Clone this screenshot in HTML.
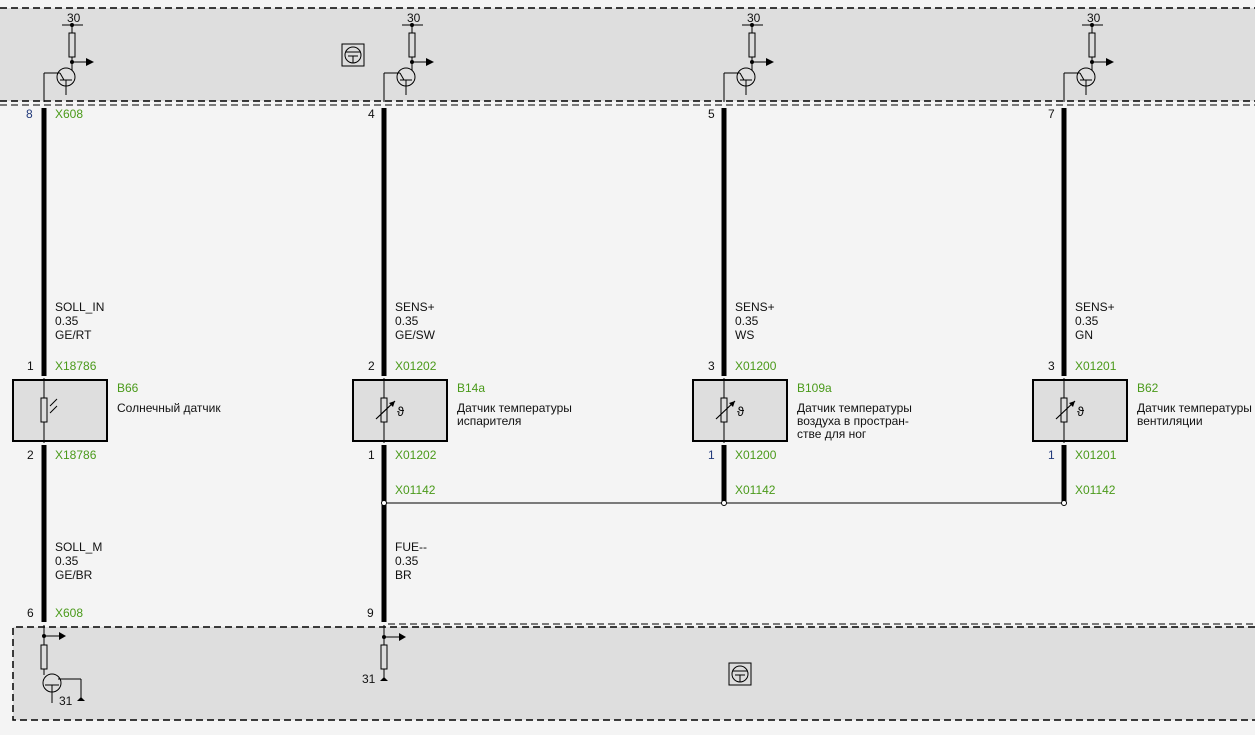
<!DOCTYPE html>
<html><head><meta charset="utf-8"><style>
html,body{margin:0;padding:0;background:#f4f4f4;}
svg{display:block;}
text{font-family:"Liberation Sans",sans-serif;font-size:12px;}
.g{fill:#4a9a1a}.k{fill:#111}.b{fill:#223a7a}
</style></head><body>
<svg width="1255" height="735" viewBox="0 0 1255 735" xmlns="http://www.w3.org/2000/svg">
<defs>
<g id="src">
 <line x1="-10" y1="25" x2="11" y2="25" stroke="#000" stroke-width="1"/>
 <circle cx="0" cy="25" r="2" fill="#000"/>
 <line x1="0" y1="25" x2="0" y2="33" stroke="#000"/>
 <rect x="-3" y="33" width="6" height="24" fill="#ddd" stroke="#000"/>
 <line x1="0" y1="57" x2="0" y2="70" stroke="#000"/>
 <circle cx="0" cy="62" r="2" fill="#000"/>
 <line x1="0" y1="62" x2="15" y2="62" stroke="#000"/>
 <polygon points="14,58 22,62 14,66" fill="#000"/>
 <circle cx="-6" cy="77" r="9" fill="none" stroke="#000"/>
 <line x1="-6" y1="80" x2="-6" y2="95" stroke="#000"/>
 <line x1="-12" y1="80" x2="0" y2="80" stroke="#000"/>
 <line x1="-12" y1="73" x2="-28" y2="73" stroke="#000"/>
 <line x1="-28" y1="73" x2="-28" y2="102" stroke="#000"/>
 <line x1="-12" y1="73" x2="-8" y2="80" stroke="#000"/>
</g>
<g id="ntc">
 <rect x="-3" y="398" width="6" height="24" fill="#ddd" stroke="#000"/>
 <line x1="-8" y1="419" x2="11" y2="401" stroke="#000" stroke-width="1.2"/>
 <polygon points="11,401 5,403 9,407" fill="#000"/>
 <text x="13" y="416" style="font-size:13px">ϑ</text>
</g>
<g id="tsym">
 <rect x="0" y="0" width="22" height="22" fill="#ddd" stroke="#000"/>
 <circle cx="11" cy="11" r="8" fill="none" stroke="#000"/>
 <line x1="4" y1="8" x2="18" y2="8" stroke="#000"/>
 <line x1="11" y1="12" x2="11" y2="19" stroke="#000"/>
 <line x1="6" y1="12" x2="16" y2="12" stroke="#000"/>
</g>
</defs>
<!-- top module -->
<rect x="0" y="8" width="1255" height="93" fill="#dedede"/>
<line x1="0" y1="8" x2="1255" y2="8" stroke="#000" stroke-width="1.5" stroke-dasharray="7,4"/>
<line x1="0" y1="101" x2="1255" y2="101" stroke="#000" stroke-width="1.5" stroke-dasharray="7,4"/>
<line x1="0" y1="105" x2="1255" y2="105" stroke="#000" stroke-width="1" stroke-dasharray="7,4"/>
<use href="#tsym" x="342" y="44"/>
<g transform="translate(72,0)"><use href="#src"/></g>
<g transform="translate(412,0)"><use href="#src"/></g>
<g transform="translate(752,0)"><use href="#src"/></g>
<g transform="translate(1092,0)"><use href="#src"/></g>
<text x="67" y="22" class="k">30</text><text x="407" y="22" class="k">30</text><text x="747" y="22" class="k">30</text><text x="1087" y="22" class="k">30</text>
<!-- bottom module -->
<rect x="13" y="627" width="1242" height="93" fill="#dedede"/>
<path d="M1255 627 H13 V720 H1255" fill="none" stroke="#000" stroke-width="1.5" stroke-dasharray="7,4"/>
<line x1="388" y1="624" x2="1255" y2="624" stroke="#000" stroke-width="1" stroke-dasharray="7,4"/>
<use href="#tsym" x="729" y="663"/>
<!-- bottom col1 -->
<g stroke="#000" fill="none">
 <line x1="44" y1="625" x2="44" y2="645"/>
 <line x1="44" y1="636" x2="60" y2="636"/>
 <rect x="41" y="645" width="6" height="24" fill="#ddd"/>
 <line x1="44" y1="669" x2="44" y2="675"/>
 <circle cx="52" cy="683" r="9"/>
 <line x1="45" y1="685" x2="59" y2="685"/>
 <line x1="52" y1="685" x2="52" y2="703"/>
 <line x1="58" y1="679" x2="81" y2="679"/>
 <line x1="81" y1="679" x2="81" y2="700"/>
 <line x1="384" y1="625" x2="384" y2="645"/>
 <line x1="384" y1="637" x2="400" y2="637"/>
 <rect x="381" y="645" width="6" height="24" fill="#ddd"/>
 <line x1="384" y1="669" x2="384" y2="679"/>
</g>
<polygon points="59,632 66,636 59,640" fill="#000"/>
<polygon points="399,633 406,637 399,641" fill="#000"/>
<circle cx="44" cy="636" r="2" fill="#000"/><circle cx="384" cy="637" r="2" fill="#000"/>
<path d="M77 701 h8 l-4 -4z" fill="#000"/><path d="M380 681 h8 l-4 -4z" fill="#000"/>
<text x="59" y="705" class="k">31</text><text x="362" y="683" class="k">31</text>
<!-- wires -->
<g stroke="#000" stroke-width="5">
 <line x1="44" y1="108" x2="44" y2="376"/><line x1="44" y1="445" x2="44" y2="622"/>
 <line x1="384" y1="108" x2="384" y2="376"/><line x1="384" y1="445" x2="384" y2="622"/>
 <line x1="724" y1="108" x2="724" y2="376"/><line x1="724" y1="445" x2="724" y2="502"/>
 <line x1="1064" y1="108" x2="1064" y2="376"/><line x1="1064" y1="445" x2="1064" y2="502"/>
</g>
<line x1="384" y1="503" x2="1064" y2="503" stroke="#000" stroke-width="1"/>
<g fill="#fff" stroke="#000"><circle cx="384" cy="503" r="2.5"/><circle cx="724" cy="503" r="2.5"/><circle cx="1064" cy="503" r="2.5"/></g>
<!-- component boxes -->
<g fill="#dedede" stroke="#000" stroke-width="2">
 <rect x="13" y="380" width="94" height="61"/><rect x="353" y="380" width="94" height="61"/>
 <rect x="693" y="380" width="94" height="61"/><rect x="1033" y="380" width="94" height="61"/>
</g>
<g stroke="#000"><line x1="44" y1="378" x2="44" y2="443"/><line x1="384" y1="378" x2="384" y2="443"/><line x1="724" y1="378" x2="724" y2="443"/><line x1="1064" y1="378" x2="1064" y2="443"/></g>
<rect x="41" y="398" width="6" height="24" fill="#ddd" stroke="#000"/>
<g stroke="#000"><line x1="50" y1="406" x2="57" y2="399"/><line x1="50" y1="413" x2="57" y2="406"/></g>
<g transform="translate(384,0)"><use href="#ntc"/></g>
<g transform="translate(724,0)"><use href="#ntc"/></g>
<g transform="translate(1064,0)"><use href="#ntc"/></g>
<!-- texts col1 -->
<text x="26" y="118" class="b">8</text><text x="55" y="118" class="g">X608</text>
<text x="55" y="311" class="k">SOLL_IN</text><text x="55" y="325" class="k">0.35</text><text x="55" y="339" class="k">GE/RT</text>
<text x="27" y="370" class="k">1</text><text x="55" y="370" class="g">X18786</text>
<text x="117" y="392" class="g">B66</text><text x="117" y="412" class="k">Солнечный датчик</text>
<text x="27" y="459" class="k">2</text><text x="55" y="459" class="g">X18786</text>
<text x="55" y="551" class="k">SOLL_M</text><text x="55" y="565" class="k">0.35</text><text x="55" y="579" class="k">GE/BR</text>
<text x="27" y="617" class="k">6</text><text x="55" y="617" class="g">X608</text>
<!-- col2 -->
<text x="368" y="118" class="k">4</text>
<text x="395" y="311" class="k">SENS+</text><text x="395" y="325" class="k">0.35</text><text x="395" y="339" class="k">GE/SW</text>
<text x="368" y="370" class="k">2</text><text x="395" y="370" class="g">X01202</text>
<text x="457" y="392" class="g">B14a</text><text x="457" y="412" class="k">Датчик температуры</text><text x="457" y="425" class="k">испарителя</text>
<text x="368" y="459" class="k">1</text><text x="395" y="459" class="g">X01202</text>
<text x="395" y="494" class="g">X01142</text>
<text x="395" y="551" class="k">FUE--</text><text x="395" y="565" class="k">0.35</text><text x="395" y="579" class="k">BR</text>
<text x="367" y="617" class="k">9</text>
<!-- col3 -->
<text x="708" y="118" class="k">5</text>
<text x="735" y="311" class="k">SENS+</text><text x="735" y="325" class="k">0.35</text><text x="735" y="339" class="k">WS</text>
<text x="708" y="370" class="k">3</text><text x="735" y="370" class="g">X01200</text>
<text x="797" y="392" class="g">B109a</text><text x="797" y="412" class="k">Датчик температуры</text><text x="797" y="425" class="k">воздуха в простран-</text><text x="797" y="438" class="k">стве для ног</text>
<text x="708" y="459" class="b">1</text><text x="735" y="459" class="g">X01200</text>
<text x="735" y="494" class="g">X01142</text>
<!-- col4 -->
<text x="1048" y="118" class="k">7</text>
<text x="1075" y="311" class="k">SENS+</text><text x="1075" y="325" class="k">0.35</text><text x="1075" y="339" class="k">GN</text>
<text x="1048" y="370" class="k">3</text><text x="1075" y="370" class="g">X01201</text>
<text x="1137" y="392" class="g">B62</text><text x="1137" y="412" class="k">Датчик температуры</text><text x="1137" y="425" class="k">вентиляции</text>
<text x="1048" y="459" class="b">1</text><text x="1075" y="459" class="g">X01201</text>
<text x="1075" y="494" class="g">X01142</text>
</svg>
</body></html>
